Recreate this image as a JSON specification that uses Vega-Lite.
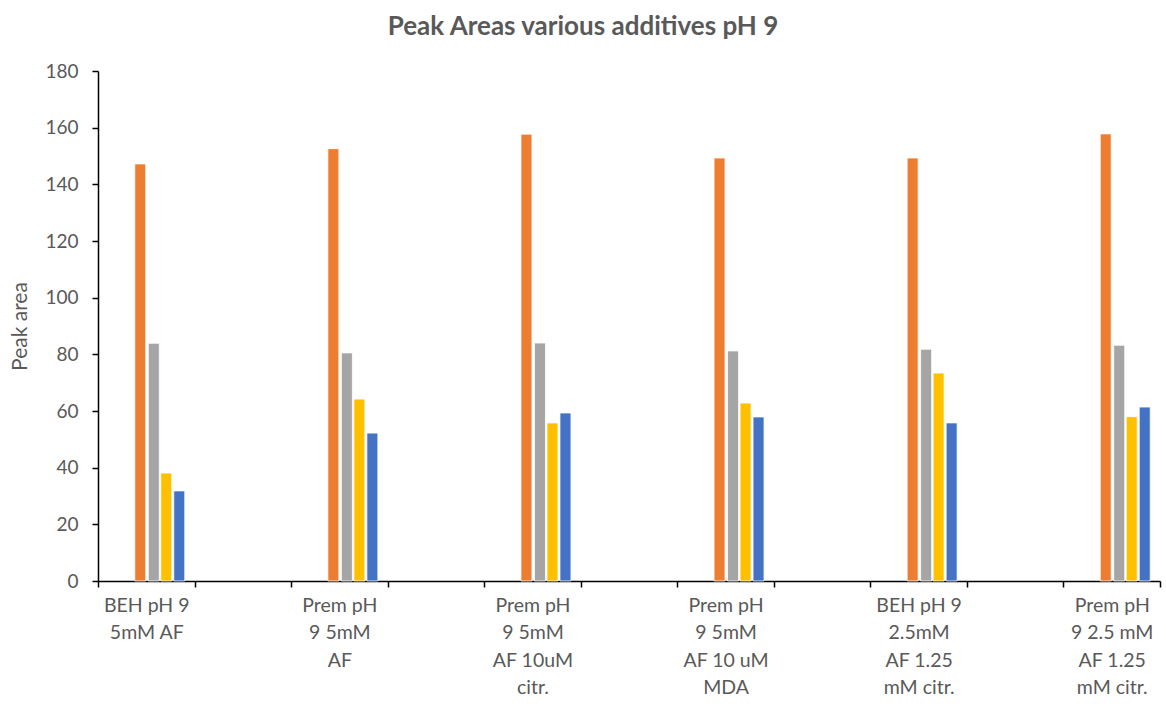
{
  "$schema": "https://vega.github.io/schema/vega-lite/v6.json",
  "width": 1062,
  "height": 510,
  "autosize": {"type": "none"},
  "padding": {"left": 98, "top": 71, "right": 6, "bottom": 127},
  "background": "white",
  "title": {"text": "Peak Areas various additives pH 9", "font": "Lato", "fontSize": 26, "fontWeight": "bold", "color": "#595959", "anchor": "middle", "dx": -46, "offset": 22},
  "data": {"values": [
    {"condition": "BEH pH 9|5mM AF", "series": "Series 1", "area": 147.2},
    {"condition": "BEH pH 9|5mM AF", "series": "Series 2", "area": 83.9},
    {"condition": "BEH pH 9|5mM AF", "series": "Series 3", "area": 38.1},
    {"condition": "BEH pH 9|5mM AF", "series": "Series 4", "area": 31.8},
    {"condition": "Prem pH|9 5mM|AF", "series": "Series 1", "area": 152.6},
    {"condition": "Prem pH|9 5mM|AF", "series": "Series 2", "area": 80.5},
    {"condition": "Prem pH|9 5mM|AF", "series": "Series 3", "area": 64.2},
    {"condition": "Prem pH|9 5mM|AF", "series": "Series 4", "area": 52.2},
    {"condition": "Prem pH|9 5mM|AF 10uM|citr.", "series": "Series 1", "area": 157.7},
    {"condition": "Prem pH|9 5mM|AF 10uM|citr.", "series": "Series 2", "area": 84.0},
    {"condition": "Prem pH|9 5mM|AF 10uM|citr.", "series": "Series 3", "area": 55.8},
    {"condition": "Prem pH|9 5mM|AF 10uM|citr.", "series": "Series 4", "area": 59.3},
    {"condition": "Prem pH|9 5mM|AF 10 uM|MDA", "series": "Series 1", "area": 149.3},
    {"condition": "Prem pH|9 5mM|AF 10 uM|MDA", "series": "Series 2", "area": 81.2},
    {"condition": "Prem pH|9 5mM|AF 10 uM|MDA", "series": "Series 3", "area": 62.8},
    {"condition": "Prem pH|9 5mM|AF 10 uM|MDA", "series": "Series 4", "area": 57.9},
    {"condition": "BEH pH 9|2.5mM|AF 1.25|mM citr.", "series": "Series 1", "area": 149.3},
    {"condition": "BEH pH 9|2.5mM|AF 1.25|mM citr.", "series": "Series 2", "area": 81.8},
    {"condition": "BEH pH 9|2.5mM|AF 1.25|mM citr.", "series": "Series 3", "area": 73.4},
    {"condition": "BEH pH 9|2.5mM|AF 1.25|mM citr.", "series": "Series 4", "area": 55.8},
    {"condition": "Prem pH|9 2.5 mM|AF 1.25|mM citr.", "series": "Series 1", "area": 157.8},
    {"condition": "Prem pH|9 2.5 mM|AF 1.25|mM citr.", "series": "Series 2", "area": 83.2},
    {"condition": "Prem pH|9 2.5 mM|AF 1.25|mM citr.", "series": "Series 3", "area": 58.0},
    {"condition": "Prem pH|9 2.5 mM|AF 1.25|mM citr.", "series": "Series 4", "area": 61.4}
  ]},
  "encoding": {
    "x": {
      "field": "condition", "type": "nominal",
      "scale": {"domain": ["BEH pH 9|5mM AF", " ", "Prem pH|9 5mM|AF", "  ", "Prem pH|9 5mM|AF 10uM|citr.", "   ", "Prem pH|9 5mM|AF 10 uM|MDA", "    ", "BEH pH 9|2.5mM|AF 1.25|mM citr.", "     ", "Prem pH|9 2.5 mM|AF 1.25|mM citr."], "paddingInner": 0, "paddingOuter": 0},
      "axis": {
        "title": null, "labelAngle": 0, "tickBand": "extent", "tickSize": 6, "tickColor": "#000", "tickWidth": 1.5,
        "domainColor": "#000", "domainWidth": 1.5,
        "labelExpr": "split('' + datum.label, '|')",
        "labelFont": "Lato", "labelFontSize": 19.5, "labelColor": "#595959", "labelLineHeight": 27.5, "labelPadding": 9
      }
    },
    "y": {
      "field": "area", "type": "quantitative", "stack": null,
      "scale": {"domain": [0, 180], "nice": false},
      "axis": {
        "title": "Peak area", "grid": false, "values": [0, 20, 40, 60, 80, 100, 120, 140, 160, 180],
        "tickSize": 6, "tickColor": "#000", "tickWidth": 1.5, "domainColor": "#000", "domainWidth": 1.5,
        "labelPadding": 14, "labelFont": "Lato", "labelFontSize": 19, "labelColor": "#595959",
        "titleFont": "Lato", "titleFontSize": 21, "titleFontWeight": "normal", "titleColor": "#595959", "titlePadding": 14
      }
    },
    "color": {"field": "series", "type": "nominal", "scale": {"domain": ["Series 1", "Series 2", "Series 3", "Series 4"], "range": ["#ED7D31", "#A5A5A5", "#FFC000", "#4472C4"]}, "legend": null}
  },
  "layer": [
    {"transform": [{"filter": "datum.series == 'Series 1'"}], "mark": {"type": "bar", "width": 11, "xOffset": -6, "stroke": "white", "strokeWidth": 0.8}},
    {"transform": [{"filter": "datum.series == 'Series 2'"}], "mark": {"type": "bar", "width": 11, "xOffset": 7.5, "stroke": "white", "strokeWidth": 0.8}},
    {"transform": [{"filter": "datum.series == 'Series 3'"}], "mark": {"type": "bar", "width": 11, "xOffset": 20, "stroke": "white", "strokeWidth": 0.8}},
    {"transform": [{"filter": "datum.series == 'Series 4'"}], "mark": {"type": "bar", "width": 11, "xOffset": 33, "stroke": "white", "strokeWidth": 0.8}}
  ],
  "config": {"view": {"stroke": null}}
}
